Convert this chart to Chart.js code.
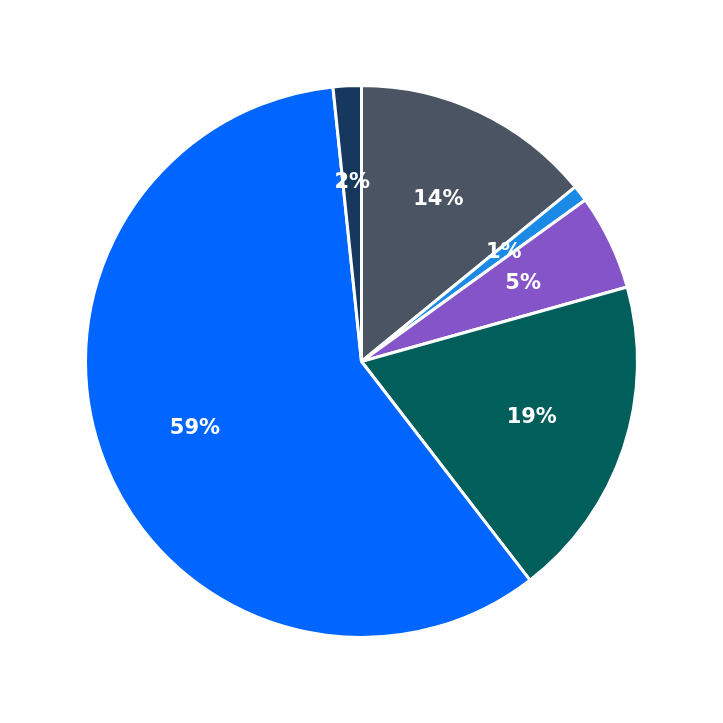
<!DOCTYPE html>
<html>
<head>
<meta charset="utf-8">
<script src="https://cdn.jsdelivr.net/npm/chart.js@4"></script>
<style>
html,body{margin:0;padding:0;background:#fff;}
#wrap{width:723px;height:723px;}
</style>
</head>
<body>
<div id="wrap"><canvas id="pie"></canvas></div>
<script>
const labels = ["A", "B", "C", "D", "E", "F"];
const values = [14.1, 0.95, 5.6, 18.9, 58.8, 1.65];
const shownPct = ["14%", "1%", "5%", "19%", "59%", "2%"];
const colors = ["#4a5462", "#1a8ae6", "#8454c8", "#005f5b", "#0066ff", "#16375e"];

// draw percent text inside each slice
const sliceLabels = {
    id: "sliceLabels",
    afterDatasetsDraw(chart){
        const ctx = chart.ctx;
        const meta = chart.getDatasetMeta(0);
        ctx.save();
        ctx.fillStyle = "#fff";
        ctx.font = "bold 21px 'DejaVu Sans'";
        ctx.textAlign = "center";
        ctx.textBaseline = "middle";
        meta.data.forEach((arc, i) => {
            const mid = (arc.startAngle + arc.endAngle) / 2;
            const r = arc.outerRadius * 0.65;
            ctx.fillText(shownPct[i], arc.x + Math.cos(mid) * r, arc.y + Math.sin(mid) * r);
        });
        ctx.restore();
    }
};

new Chart(document.getElementById("pie"), {
    type: "pie",
    data: {
        labels: labels,
        datasets: [{
            data: values,
            backgroundColor: colors,
            borderColor: "#fff",
            borderWidth: 3
        }]
    },
    options: {
        responsive: true,
        maintainAspectRatio: false,
        animation: false,
        layout: { padding: 84 },
        plugins: { legend: { display: false }, tooltip: { enabled: false } }
    },
    plugins: [sliceLabels]
});
</script>
</body>
</html>
